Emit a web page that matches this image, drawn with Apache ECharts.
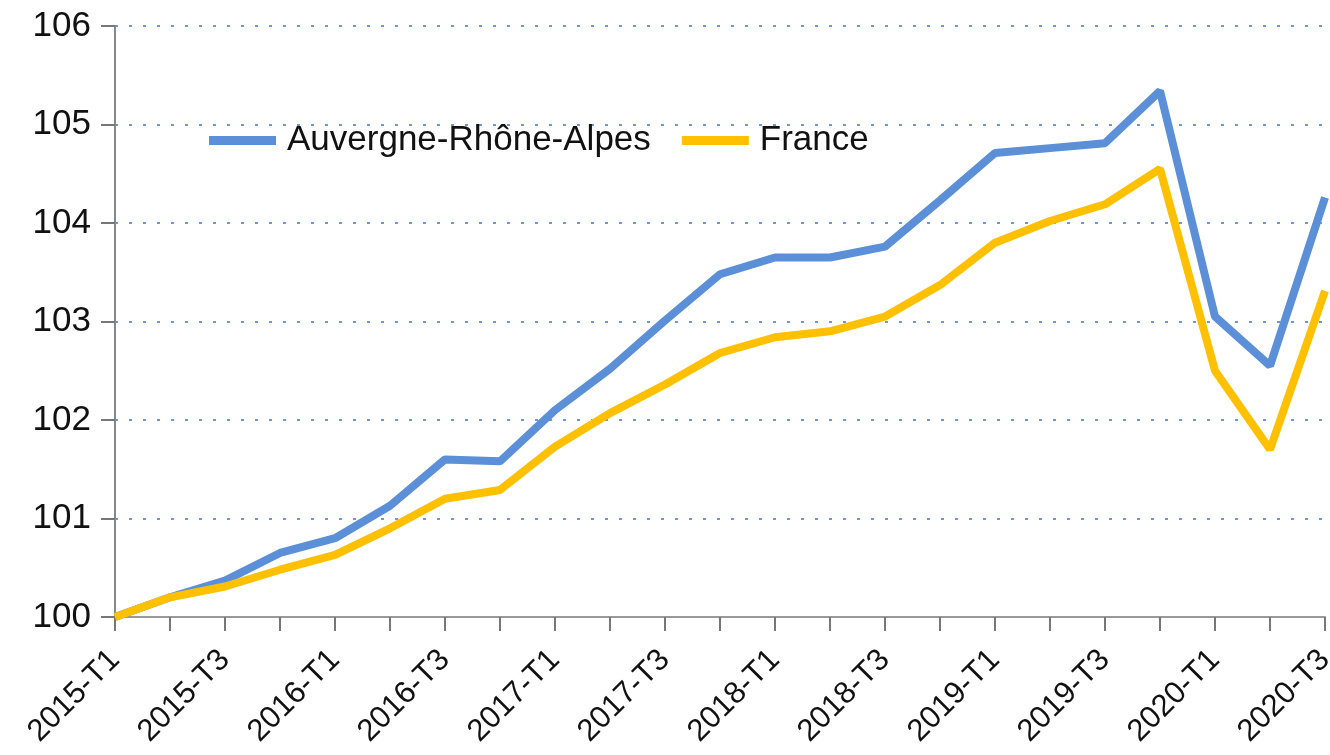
<!DOCTYPE html>
<html>
<head>
<meta charset="utf-8">
<script src="https://cdn.jsdelivr.net/npm/echarts@6/dist/echarts.min.js"></script>
<style>
html,body{margin:0;padding:0;background:#fff;}
#chart{width:1330px;height:755px;}
</style>
</head>
<body>
<div id="chart"></div>
<script>
var quarters=['2015-T1','2015-T2','2015-T3','2015-T4','2016-T1','2016-T2','2016-T3','2016-T4',
  '2017-T1','2017-T2','2017-T3','2017-T4','2018-T1','2018-T2','2018-T3','2018-T4',
  '2019-T1','2019-T2','2019-T3','2019-T4','2020-T1','2020-T2','2020-T3'];
var araData=[100.0,100.2,100.37,100.65,100.8,101.13,101.6,101.58,102.1,102.52,103.01,103.48,
  103.65,103.65,103.76,104.23,104.71,104.76,104.81,105.34,103.05,102.55,104.26];
var franceData=[100.0,100.2,100.31,100.48,100.63,100.9,101.2,101.29,101.73,102.07,102.36,102.68,
  102.84,102.9,103.05,103.37,103.8,104.02,104.19,104.55,102.5,101.7,103.31];

var myChart=echarts.init(document.getElementById('chart'));
var font='"Liberation Sans", Arial, sans-serif';
var option={
    animation:false,
    grid:{left:115,right:5,top:26,bottom:138,outerBoundsMode:'none'},
    legend:{
        left:204,
        top:118,
        itemWidth:67,
        itemHeight:9,
        itemGap:31,
        icon:'rect',
        textStyle:{fontFamily:font,fontSize:35,color:'#111',padding:[0,0,0,6]},
        data:['Auvergne-Rhône-Alpes','France']
    },
    xAxis:{
        type:'category',
        boundaryGap:false,
        data:quarters,
        axisLine:{lineStyle:{color:'#999',width:2}},
        axisTick:{show:true,interval:0,length:14,lineStyle:{color:'#777',width:2}},
        axisLabel:{
            interval:1,
            rotate:45,
            margin:38,
            fontFamily:font,
            fontSize:31,
            color:'#111'
        },
        splitLine:{show:false}
    },
    yAxis:{
        type:'value',
        min:100,
        max:106,
        interval:1,
        axisLine:{show:true,lineStyle:{color:'#888',width:2}},
        axisTick:{show:true,length:14,lineStyle:{color:'#777',width:2}},
        axisLabel:{fontFamily:font,fontSize:35,color:'#111',margin:24},
        splitLine:{
            show:true,
            lineStyle:{color:'#6a98e0',width:2,type:[3,11]}
        }
    },
    series:[
        {
            name:'Auvergne-Rhône-Alpes',
            type:'line',
            data:araData,
            symbol:'none',
            lineStyle:{color:'#5b8fd7',width:8},
            itemStyle:{color:'#5b8fd7'},
            z:2
        },
        {
            name:'France',
            type:'line',
            data:franceData,
            symbol:'none',
            lineStyle:{color:'#ffc000',width:8},
            itemStyle:{color:'#ffc000'},
            z:3
        }
    ]
};
myChart.setOption(option);
</script>
</body>
</html>
